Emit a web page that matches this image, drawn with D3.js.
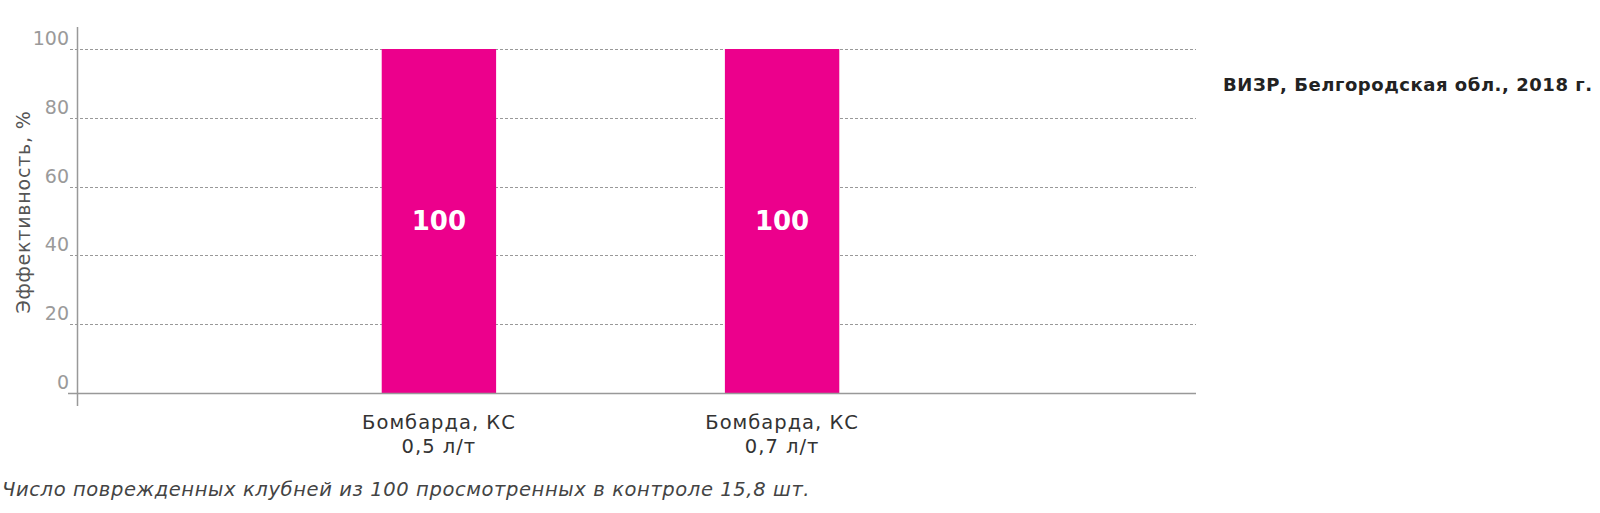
<!DOCTYPE html>
<html>
<head>
<meta charset="utf-8">
<script src="https://cdn.jsdelivr.net/npm/d3@7"></script>
<style>
  body { margin: 0; background: #fff; }
  svg { font-family: "DejaVu Sans", sans-serif; }
</style>
</head>
<body>
<svg id="chart" width="1600" height="513"></svg>
<script>
const categories = [["Бомбарда, КС", "0,5 л/т"], ["Бомбарда, КС", "0,7 л/т"]];
const values = [100, 100];
const yTicks = [0, 20, 40, 60, 80, 100];
const yLabel = "Эффективность, %";
const sideTitle = "ВИЗР, Белгородская обл., 2018 г.";
const footnote = "Число поврежденных клубней из 100 просмотренных в контроле 15,8 шт.";

const svg = d3.select("#chart");
const barColor = "#ec008c";

const y = d3.scaleLinear().domain([0, 100]).range([393, 49]);
const x = d3
  .scaleBand()
  .domain(d3.range(categories.length))
  .range([78, 1143])
  .paddingInner(2 / 3)
  .paddingOuter(0.885);

// dashed grid
svg
  .append("g")
  .selectAll("line")
  .data(yTicks.filter((d) => d > 0))
  .join("line")
  .attr("x1", 70)
  .attr("x2", 1196)
  .attr("y1", (d) => Math.round(y(d)) + 0.5)
  .attr("y2", (d) => Math.round(y(d)) + 0.5)
  .attr("stroke", "#999")
  .attr("stroke-dasharray", "3,2");

// bars
svg
  .append("g")
  .selectAll("rect")
  .data(values)
  .join("rect")
  .attr("x", (d, i) => x(i))
  .attr("width", x.bandwidth())
  .attr("y", (d) => y(d))
  .attr("height", (d) => y(0) - y(d))
  .attr("fill", barColor);

// value labels
svg
  .append("g")
  .selectAll("text")
  .data(values)
  .join("text")
  .attr("x", (d, i) => x(i) + x.bandwidth() / 2)
  .attr("y", (d) => (y(d) + y(0)) / 2 + 9)
  .attr("text-anchor", "middle")
  .attr("fill", "#fff")
  .attr("font-weight", "bold")
  .attr("font-size", 26)
  .text((d) => d);

// axes lines
svg
  .append("line")
  .attr("x1", 68)
  .attr("x2", 1196)
  .attr("y1", y(0) + 0.5)
  .attr("y2", y(0) + 0.5)
  .attr("stroke", "#999")
  .attr("stroke-width", 1.5);
svg
  .append("line")
  .attr("x1", 77.5)
  .attr("x2", 77.5)
  .attr("y1", 27)
  .attr("y2", 406)
  .attr("stroke", "#999")
  .attr("stroke-width", 1.5);

// y tick labels
svg
  .append("g")
  .selectAll("text")
  .data(yTicks)
  .join("text")
  .attr("x", 69)
  .attr("y", (d) => y(d) - 4)
  .attr("text-anchor", "end")
  .attr("fill", "#9a9a9a")
  .attr("font-size", 19)
  .text((d) => d);

svg
  .append("text")
  .attr("transform", "translate(30,212) rotate(-90)")
  .attr("text-anchor", "middle")
  .attr("fill", "#555")
  .attr("font-size", 19)
  .attr("letter-spacing", 0.8)
  .text(yLabel);

// category labels
svg
  .append("g")
  .selectAll("text")
  .data(categories)
  .join("text")
  .attr("text-anchor", "middle")
  .attr("fill", "#333")
  .attr("font-size", 19.5)
  .attr("letter-spacing", 1)
  .attr("transform", (d, i) => `translate(${x(i) + x.bandwidth() / 2},429)`)
  .selectAll("tspan")
  .data((d) => d)
  .join("tspan")
  .attr("x", 0)
  .attr("dy", (d, j) => (j ? 24 : 0))
  .text((d) => d);

svg
  .append("text")
  .attr("x", 1223)
  .attr("y", 91)
  .attr("fill", "#222")
  .attr("font-weight", "bold")
  .attr("font-size", 18)
  .attr("letter-spacing", 0.55)
  .text(sideTitle);

svg
  .append("text")
  .attr("x", 2)
  .attr("y", 496)
  .attr("fill", "#444")
  .attr("font-style", "italic")
  .attr("font-size", 19.5)
  .attr("letter-spacing", 0.6)
  .text(footnote);
</script>
</body>
</html>
